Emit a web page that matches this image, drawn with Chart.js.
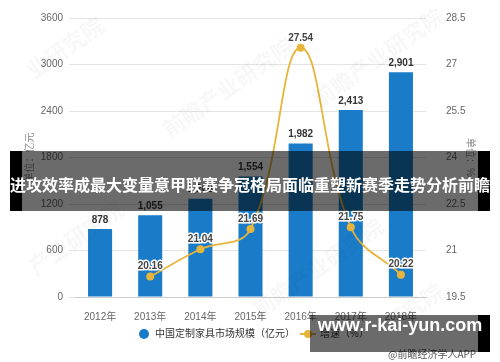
<!DOCTYPE html>
<html>
<head>
<meta charset="utf-8">
<script src="https://cdn.jsdelivr.net/npm/chart.js@4/dist/chart.umd.min.js"></script>
<style>
html, body { margin: 0; padding: 0; background: #fff; }
#wrap { position: relative; width: 500px; height: 362px; overflow: hidden; }
#chart { position: absolute; left: 0; top: 0; }
.wm { position: absolute; color: rgba(0,0,0,0.03); font: bold 22px "Noto Sans CJK SC"; transform: rotate(-35deg); white-space: nowrap; }
#banner { position: absolute; left: 10px; top: 151px; width: 480px; height: 60px; box-sizing: border-box;
  background: rgba(0,0,0,0.58); border-left: 12px solid #000; border-right: 12px solid #000; }
#bannerText { position: absolute; left: 10px; top: 172px; width: 480px; height: 26px; line-height: 26px;
  text-align: center; color: #fff; font: bold 16px "Noto Sans CJK SC"; white-space: nowrap; }
#site { position: absolute; left: 310px; top: 315px; width: 180px; height: 37px; box-sizing: border-box;
  background: rgba(0,0,0,0.58); border-right: 12px solid #000; }
#siteText { position: absolute; left: 310px; top: 315px; width: 180px; height: 37px; line-height: 37px;
  text-align: center; color: #fff; font: bold 18px "Liberation Sans", sans-serif; white-space: nowrap; }
#src { position: absolute; left: 388px; top: 346px; color: #555; font: 10px "Noto Sans CJK SC"; white-space: nowrap; }
</style>
</head>
<body>
<div id="wrap">
  <canvas id="chart" width="500" height="362"></canvas>
  <div class="wm" style="left:20px;top:30px;">业研究院</div>
  <div class="wm" style="left:150px;top:70px;">前瞻产业研究院</div>
  <div class="wm" style="left:300px;top:40px;">前瞻产业研究院</div>
  <div class="wm" style="left:20px;top:220px;">产业研究院</div>
  <div class="wm" style="left:240px;top:250px;">前瞻产业研究院</div>
  <div class="wm" style="left:380px;top:290px;">研究院</div>
  <div id="src">@前瞻经济学人APP</div>
  <div id="banner"></div>
  <div id="bannerText">进攻效率成最大变量意甲联赛争冠格局面临重塑新赛季走势分析前瞻</div>
  <div id="site"></div>
  <div id="siteText">www.r-kai-yun.com</div>
</div>
<script>
const years = ["2012年", "2013年", "2014年", "2015年", "2016年", "2017年", "2018年"];
const marketSize = [878, 1055, 1268, 1554, 1982, 2413, 2901];   // 亿元
const growthRate = [null, 20.16, 21.04, 21.69, 27.54, 21.75, 20.22]; // %

const barName = "中国定制家具市场规模（亿元）";
const lineName = "增速（%）";

const BLUE = "#1a7cc9";
const GOLD = "#e8b53c";
const FONT = "'Liberation Sans', 'Noto Sans CJK SC', sans-serif";

// value labels + custom legend
const labelPlugin = {
    id: "labels",
    afterDatasetsDraw(chart) {
        const ctx = chart.ctx;
        ctx.save();
        ctx.textAlign = "center";
        ctx.textBaseline = "middle";

        const bars = chart.getDatasetMeta(1).data;
        ctx.font = "bold 10px " + FONT;
        ctx.fillStyle = "#333";
        bars.forEach((b, i) => {
            ctx.fillText(marketSize[i].toLocaleString("en-US"), b.x, b.y - 9);
        });

        const pts = chart.getDatasetMeta(0).data;
        ctx.lineJoin = "round";
        pts.forEach((p, i) => {
            if (growthRate[i] == null) return;
            const t = growthRate[i].toFixed(2);
            ctx.strokeStyle = "#fff";
            ctx.lineWidth = 3;
            ctx.strokeText(t, p.x, p.y - 10);
            ctx.fillStyle = "#444";
            ctx.fillText(t, p.x, p.y - 10);
        });

        // legend
        ctx.textAlign = "left";
        ctx.font = "10px " + FONT;
        ctx.fillStyle = BLUE;
        ctx.beginPath();
        ctx.arc(144, 334, 5, 0, Math.PI * 2);
        ctx.fill();
        ctx.fillStyle = "#333";
        ctx.fillText(barName, 155, 334);

        ctx.strokeStyle = GOLD;
        ctx.lineWidth = 2;
        ctx.beginPath();
        ctx.moveTo(300, 334);
        ctx.lineTo(316, 334);
        ctx.stroke();
        ctx.fillStyle = GOLD;
        ctx.beginPath();
        ctx.arc(308, 334, 4, 0, Math.PI * 2);
        ctx.fill();
        ctx.fillStyle = "#333";
        ctx.fillText(lineName, 320, 334);
        ctx.restore();
    }
};

new Chart(document.getElementById("chart"), {
    data: {
        labels: years,
        datasets: [
            {
                type: "line",
                label: lineName,
                data: growthRate,
                yAxisID: "y2",
                borderColor: GOLD,
                backgroundColor: GOLD,
                borderWidth: 1.8,
                pointRadius: 4,
                pointBorderWidth: 0,
                tension: 0.4,
                order: 0
            },
            {
                type: "bar",
                label: barName,
                data: marketSize,
                yAxisID: "y",
                backgroundColor: BLUE,
                categoryPercentage: 1,
                barPercentage: 0.48,
                order: 1
            }
        ]
    },
    options: {
        responsive: false,
        animation: false,
        layout: { padding: { top: 8, left: 0, right: 0, bottom: 0 } },
        plugins: { legend: { display: false }, tooltip: { enabled: false } },
        scales: {
            x: {
                grid: { display: false },
                border: { color: "#ccc" },
                ticks: { color: "#666", font: { family: FONT, size: 10 }, padding: 6 },
                afterFit(s) { s.height = 65; }
            },
            y: {
                position: "left",
                min: 0, max: 3600,
                ticks: { stepSize: 600, color: "#666", font: { family: FONT, size: 10 }, padding: 6,
                         callback: (v) => String(v) },
                grid: { color: "#e3e3e3", tickLength: 6 },
                border: { display: false },
                title: { display: true, text: "单位：亿元", color: "#888", font: { family: FONT, size: 10 }, padding: { top: 24, bottom: 0 } },
                afterFit(s) { s.width = 75; }
            },
            y2: {
                position: "right",
                min: 19.5, max: 28.5,
                ticks: { stepSize: 1.5, color: "#666", font: { family: FONT, size: 10 }, padding: 12 },
                grid: { display: false },
                border: { display: false },
                title: { display: true, text: "单位：%", color: "#888", font: { family: FONT, size: 10 }, padding: { top: 24, bottom: 0 } },
                afterFit(s) { s.width = 74; }
            }
        }
    },
    plugins: [labelPlugin]
});
</script>
</body>
</html>
